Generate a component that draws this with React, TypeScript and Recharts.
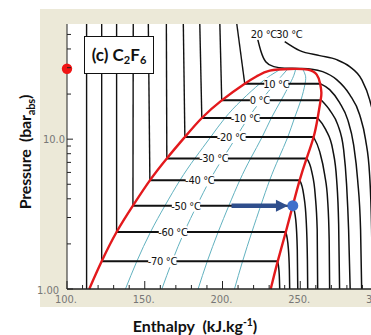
import { ComposedChart, Line, Scatter, XAxis, YAxis } from 'recharts';

// enthalpy (kJ/kg) / pressure (bar)
const H_TICKS = [100, 110, 120, 130, 140, 150, 160, 170, 180, 190, 200, 210, 220, 230, 240, 250, 260, 270, 280, 290, 300];
const P_TICKS = [1, 2, 3, 4, 5, 6, 7, 8, 9, 10, 20, 30, 40, 50];
const P_MAX = 58.7;

const TEMP_LABELS = ['10 °C', '0 °C', '-10 °C', '-20 °C', '-30 °C', '-40 °C', '-50 °C', '-60 °C', '-70 °C'];
const SAT_P = [23.47, 18.16, 13.85, 10.34, 7.44, 5.31, 3.6, 2.4, 1.53];
const SAT_H_LIQ = [214.3, 199.5, 186.7, 175.8, 164.2, 153.3, 142.4, 131.9, 122.3];
const SAT_H_VAP = [262.8, 263.6, 261.2, 258.6, 254.2, 249.7, 245.2, 240.7, 235.5];
const LIQ_TOP_H = [209.2, 198.3, 185.4, 174.8, 163.9, 152.3, 142.6, 131.9, 122.3];
const LABEL_H = [234.6, 224.0, 214.8, 205.8, 194.4, 185.4, 176.5, 168.1, 161.3];

// saturation dome
const DOME: [number, number][] = [
  [114.3, 1.0], [122.3, 1.53], [131.9, 2.4], [142.4, 3.6], [153.3, 5.31], [164.2, 7.44], [175.8, 10.34],
  [186.7, 13.85], [199.5, 18.16], [214.3, 23.47], [222.7, 26.54], [230.4, 28.66], [243.2, 29.42],
  [254.8, 29.11], [260.6, 26.95], [262.8, 23.47], [263.6, 20.44], [263.1, 18.16], [261.2, 13.85],
  [258.6, 10.34], [254.1, 7.44], [249.6, 5.31], [245.2, 3.6], [240.7, 2.4], [235.5, 1.53], [231.0, 1.0],
];

// iso-quality lines (x = 0.2 .. 0.8)
const QUALITY_P = [1.0, 1.53, 2.4, 3.6, 5.31, 7.44, 10.34, 13.85, 18.16, 23.47, 26.7];
const Q20_H = [137.6, 144.9, 153.7, 163.0, 172.6, 182.2, 192.4, 201.6, 212.2, 224.0, 231.0];
const Q40_H = [161.0, 167.6, 175.4, 183.5, 191.8, 200.2, 208.9, 216.5, 224.9, 233.7, 238.4];
const Q60_H = [184.3, 190.2, 197.2, 204.1, 211.1, 218.1, 225.5, 231.4, 237.7, 243.4, 245.9];
const Q80_H = [207.7, 212.9, 218.9, 224.6, 230.3, 236.1, 242.0, 246.3, 250.4, 253.1, 253.3];
const QUALITY_TOP: [number, number][] = [[236.8, 29.1], [241.9, 29.35], [247.1, 29.4], [251.6, 29.25]];

// superheated vapour isotherms, 10 °C down to -70 °C
const VAPOR_CURVES: [number, number][][] = [
  [[262.8, 23.47], [268.9, 21.4], [275.3, 17.52], [280.5, 13.5], [284.3, 9.19], [286.9, 5.365], [288.8, 2.488], [289.5, 1.0]],
  [[263.6, 18.16], [269.6, 15.26], [274.1, 12.5], [277.9, 8.511], [279.8, 4.97], [281.1, 2.488], [282.1, 1.0]],
  [[261.2, 13.85], [266.4, 11.57], [270.9, 8.511], [273.4, 5.365], [274.7, 2.687], [275.3, 1.0]],
  [[258.6, 10.34], [262.5, 8.253], [265.7, 5.794], [267.6, 3.946], [268.6, 2.134], [268.9, 1.0]],
  [[254.2, 7.44], [257.4, 6.067], [259.6, 4.262], [260.9, 2.488], [261.2, 1.0]],
  [[249.7, 5.31], [252.2, 4.262], [253.8, 2.901], [254.6, 1.569], [254.8, 1.0]],
  [[245.2, 3.6], [247.1, 2.901], [248.1, 1.829], [248.4, 1.0]],
  [[240.7, 2.4], [242.3, 1.887], [243.0, 1.346], [243.2, 1.0]],
  [[235.5, 1.53], [236.5, 1.246], [236.8, 1.0]],
];

const ISO_MINUS80: [number, number][] = [[112.6, 1.0], [112.6, P_MAX]];
const ISO_20: [number, number][] = [
  [222.7, 46.16], [224.6, 38.97], [227.8, 32.91], [233.0, 30.48], [240.0, 29.79], [249.7, 29.65], [257.4, 29.33],
  [264.4, 28.22], [273.4, 24.96], [281.8, 19.82], [288.2, 14.57], [292.0, 9.92], [294.6, 5.794], [295.9, 2.488], [296.5, 1.0],
];
const ISO_30: [number, number][] = [
  [240.0, 44.76], [249.7, 38.97], [262.5, 36.1], [273.4, 33.94], [281.8, 30.48], [289.5, 24.96], [294.6, 18.35], [298.5, 11.57], [300, 7.9],
];
const TOP_LABELS = ['20 °C', '30 °C'];
const TOP_LABEL_H = [226.6, 243.0];
const TOP_LABEL_P = 50.6;

const ARROW: [number, number][] = [[205.8, 3.6], [236.0, 3.6]];
const ARROW_TIP: [number, number] = [242.1, 3.6];
const STATE_POINT: [number, number] = [245.2, 3.6];
const CRITICAL_P = 29.5;

const pts = (arr: [number, number][]) => arr.map(([h, p]) => ({ h, p }));
const qualityLine = (hs: number[], top: [number, number]) => [...hs.map((h, i) => ({ h, p: QUALITY_P[i] })), { h: top[0], p: top[1] }];

const tickFont = "'Liberation Sans Narrow', 'Arial Narrow', 'DejaVu Sans Condensed', sans-serif";
const AXIS = '#222';

function BottomTick(props: any) {
  const { x, y, payload } = props;
  const major = payload.value % 50 === 0;
  return (
    <g>
      <line x1={x} x2={x} y1={y} y2={y - (major ? 8 : 4)} stroke={AXIS} />
      {major && (
        <text x={x - 1} y={y + 14} textAnchor="middle" fontSize={11} fill="#777" fontFamily={tickFont}>
          {`${payload.value}.`}
        </text>
      )}
    </g>
  );
}

function TopTick(props: any) {
  const { x, y, payload } = props;
  const major = payload.value % 50 === 0;
  return <line x1={x} x2={x} y1={y} y2={y + (major ? 8 : 5)} stroke={AXIS} />;
}

function LeftTick(props: any) {
  const { x, y, payload } = props;
  const v = payload.value;
  const major = v === 1 || v === 10;
  return (
    <g>
      <line x1={x} x2={x + (major ? 6 : 4)} y1={y} y2={y} stroke={AXIS} />
      {v === 10 && (
        <text x={x - 2} y={y + 4} textAnchor="end" fontSize={11} fill="#777" fontFamily={tickFont}>10.0</text>
      )}
      {v === 1 && (
        <text x={x - 8} y={y + 5} textAnchor="end" fontSize={11} fill="#777" fontFamily={tickFont}>1.00</text>
      )}
    </g>
  );
}

function TempLabel(props: any) {
  const { cx, cy, payload } = props;
  const w = payload.text.length * 4.2 + 3;
  return (
    <g>
      <rect x={cx - w / 2} y={cy - 6} width={w} height={12} fill="#fff" />
      <text x={cx} y={cy + 4} textAnchor="middle" fontSize={11} fill="#111" fontFamily={tickFont} letterSpacing={-0.3}>{payload.text}</text>
    </g>
  );
}

function ArrowHead(props: any) {
  const { cx, cy } = props;
  return <polygon points={`${cx - 12},${cy - 6} ${cx},${cy} ${cx - 12},${cy + 6}`} fill="#2F4E8C" />;
}

const dot = (r: number, fill: string) => (props: any) => <circle cx={props.cx} cy={props.cy} r={r} fill={fill} />;

const lineProps = { dataKey: 'p', dot: false, activeDot: false, isAnimationActive: false, legendType: 'none' as const };

export default function App() {
  const tempLabels = TEMP_LABELS.map((text, i) => ({ h: LABEL_H[i], p: SAT_P[i], text }));
  const topLabels = TOP_LABELS.map((text, i) => ({ h: TOP_LABEL_H[i], p: TOP_LABEL_P, text }));
  return (
    <div style={{ position: 'absolute', left: 0, top: 0, width: 371, height: 335, overflow: 'hidden', background: '#fff' }}>
      <div style={{ position: 'absolute', left: 40, top: 9, width: 340, height: 298, background: '#ECE9D8' }} />
      <div style={{ position: 'absolute', left: 67, top: 24, width: 311, height: 265, background: '#fff' }} />
      <div style={{ position: 'absolute', left: 0, top: 0 }}>
        <ComposedChart width={391} height={335} margin={{ top: 24, right: 13, bottom: 0, left: 0 }}>
          <XAxis
            dataKey="h" type="number" domain={[100, 300]} ticks={H_TICKS} interval={0}
            height={46} tickSize={0} tickMargin={0} tickLine={false} tick={<BottomTick />}
            axisLine={{ stroke: AXIS, strokeWidth: 1.5 }}
          />
          <XAxis
            xAxisId="top" orientation="top" dataKey="h" type="number" domain={[100, 300]} ticks={H_TICKS} interval={0}
            height={0} tickSize={0} tickMargin={0} tickLine={false} tick={<TopTick />}
            axisLine={{ stroke: AXIS }}
          />
          <YAxis
            dataKey="p" type="number" scale="log" domain={[1, P_MAX]} ticks={P_TICKS} interval={0}
            width={67} tickSize={0} tickMargin={0} tickLine={false} tick={<LeftTick />}
            axisLine={{ stroke: AXIS }}
          />

          {[Q20_H, Q40_H, Q60_H, Q80_H].map((hs, i) => (
            <Line key={`q${i}`} {...lineProps} data={qualityLine(hs, QUALITY_TOP[i])} type="natural" stroke="#62B2C0" strokeWidth={1} />
          ))}

          <Line {...lineProps} data={pts(ISO_MINUS80)} type="linear" stroke="#111" strokeWidth={1.4} />
          {SAT_P.map((p, i) => (
            <Line key={`liq${i}`} {...lineProps} data={[{ h: LIQ_TOP_H[i], p: P_MAX }, { h: SAT_H_LIQ[i], p }]} type="linear" stroke="#111" strokeWidth={1.4} />
          ))}
          {SAT_P.map((p, i) => (
            <Line key={`hz${i}`} {...lineProps} data={[{ h: SAT_H_LIQ[i], p }, { h: SAT_H_VAP[i], p }]} type="linear" stroke="#111" strokeWidth={2} />
          ))}
          {VAPOR_CURVES.map((c, i) => (
            <Line key={`vap${i}`} {...lineProps} data={pts(c)} type="monotone" stroke="#111" strokeWidth={1.5} />
          ))}
          <Line {...lineProps} data={pts(ISO_20)} type="monotone" stroke="#111" strokeWidth={1.5} />
          <Line {...lineProps} data={pts(ISO_30)} type="monotone" stroke="#111" strokeWidth={1.5} />

          <Line {...lineProps} data={pts(DOME)} type="natural" stroke="#E3191C" strokeWidth={2.4} />

          <Line {...lineProps} data={pts(ARROW)} type="linear" stroke="#2F4E8C" strokeWidth={4.5} />
          <Scatter data={[{ h: ARROW_TIP[0], p: ARROW_TIP[1] }]} shape={<ArrowHead />} isAnimationActive={false} />
          <Scatter data={[{ h: STATE_POINT[0], p: STATE_POINT[1] }]} shape={dot(5.5, '#3F6FCB')} isAnimationActive={false} />
          <Scatter data={[{ h: 100, p: CRITICAL_P }]} shape={dot(5.2, '#F01414')} isAnimationActive={false} />

          <Scatter data={tempLabels} shape={<TempLabel />} isAnimationActive={false} />
          <Scatter data={topLabels} shape={<TempLabel />} isAnimationActive={false} />
        </ComposedChart>
      </div>

      <div
        style={{
          position: 'absolute', left: 84, top: 36, width: 70, height: 38, boxSizing: 'border-box',
          border: '1px solid #111', background: '#fff', display: 'flex', alignItems: 'center', justifyContent: 'center',
          fontFamily: 'Lato, sans-serif', fontWeight: 700, fontSize: 17, color: '#111',
        }}
      >
        <span>
          (c) C<sub style={{ fontSize: '0.65em', verticalAlign: '-0.3em' }}>2</sub>F<sub style={{ fontSize: '0.65em', verticalAlign: '-0.3em' }}>6</sub>
        </span>
      </div>

      <div
        style={{
          position: 'absolute', left: 26, top: 152, transform: 'translate(-50%, -50%) rotate(-90deg)',
          whiteSpace: 'nowrap', fontFamily: 'Lato, sans-serif', fontWeight: 700, fontSize: 16, letterSpacing: -0.2, color: '#111',
        }}
      >
        Pressure&nbsp; (bar<sub style={{ fontSize: '0.7em', verticalAlign: '-0.3em' }}>abs</sub>)
      </div>

      <div
        style={{
          position: 'absolute', left: 195, top: 325, transform: 'translate(-50%, -50%)',
          whiteSpace: 'nowrap', fontFamily: 'Lato, sans-serif', fontWeight: 700, fontSize: 16, color: '#111',
        }}
      >
        Enthalpy&nbsp; (kJ.kg<sup style={{ fontSize: '0.65em', verticalAlign: '0.5em' }}>-1</sup>)
      </div>
    </div>
  );
}
